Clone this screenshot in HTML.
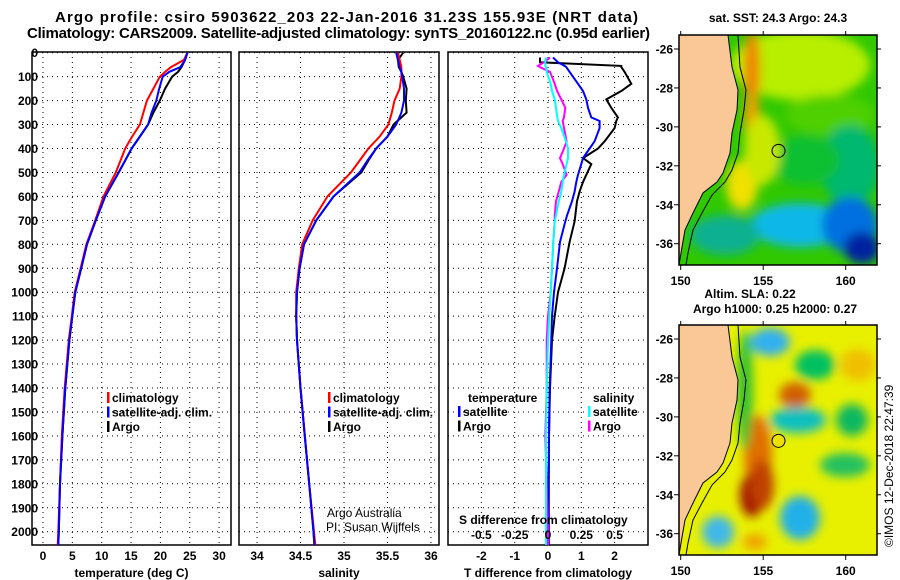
<!DOCTYPE html>
<html><head><meta charset="utf-8"><style>
html,body{margin:0;padding:0;background:#fff;}
svg{display:block;font-family:"Liberation Sans",sans-serif;}
.b{font-weight:bold;font-size:12px;}
.t{font-weight:bold;font-size:15px;}
</style></head><body>
<svg id="chart" width="900" height="580" viewBox="0 0 900 580" xmlns="http://www.w3.org/2000/svg">
<defs>
<filter id="bl" x="-50%" y="-50%" width="200%" height="200%"><feGaussianBlur stdDeviation="5"/></filter>
<clipPath id="c1"><rect x="679" y="35" width="198" height="230"/></clipPath>
<clipPath id="c2"><rect x="679" y="325" width="198" height="230"/></clipPath>
</defs>
<text class="t" x="55" y="22" textLength="583">Argo profile: csiro 5903622_203 22-Jan-2016 31.23S 155.93E (NRT data)</text>
<text class="t" x="27" y="38" textLength="623">Climatology: CARS2009. Satellite-adjusted climatology: synTS_20160122.nc (0.95d earlier)</text>
<g id="plots"></g>
<g id="maps"></g>
</svg>
<script>
// ---- data ----
const depthP = [0,30,60,80,100,150,200,250,300,350,400,450,500,600,700,800,900,1000,1100,1200,1400,1600,1800,2000,2055];
const tClim = [24.6,24.0,21.8,20.8,19.9,18.8,17.7,17.1,16.5,15.2,14.0,13.2,12.4,10.3,8.9,7.4,6.4,5.4,4.9,4.4,3.7,3.2,2.9,2.6,2.5];
const tSat  = [24.6,24.2,23.4,21.5,20.4,19.8,19.3,18.5,17.9,16.5,15.1,14.0,12.9,10.6,9.0,7.5,6.5,5.5,5.0,4.5,3.8,3.3,2.9,2.7,2.6];
const tArgo = [24.6,24.2,23.6,23.0,22.0,20.8,19.9,18.8,17.9,16.5,15.1,14.0,12.9,10.6,9.0,7.5,6.5,5.5,5.0,4.5,3.8,3.3,2.9,2.7,2.6];
const sClim = [35.62,35.64,35.66,35.66,35.66,35.64,35.58,35.55,35.51,35.41,35.28,35.18,35.08,34.81,34.64,34.52,34.48,34.45,34.45,34.46,34.5,34.55,34.6,34.655,34.67];
const sSat  = [35.60,35.62,35.64,35.66,35.67,35.69,35.69,35.66,35.60,35.50,35.37,35.27,35.18,34.88,34.68,34.54,34.49,34.46,34.45,34.46,34.5,34.55,34.6,34.65,34.66];
const sArgo = [35.68,35.62,35.63,35.66,35.68,35.72,35.71,35.72,35.57,35.50,35.37,35.28,35.20,34.88,34.68,34.54,34.49,34.46,34.45,34.46,34.5,34.55,34.6,34.65,34.66];
const depthD = [20,40,55,60,80,130,160,195,230,270,285,315,370,400,440,465,510,540,580,620,680,705,790,900,1000,1100,1200,1400,1600,1800,2000,2055];
const dTArgo = [-0.24,-0.24,2.2,2.2,2.3,2.5,2.2,1.75,1.9,2.1,2.05,2.0,1.7,1.5,1.05,1.3,1.15,1.05,0.95,0.87,0.82,0.8,0.65,0.5,0.3,0.2,0.12,0.06,0.03,0.02,0.02,0.02];
const dTSat  = [0.15,0.3,0.5,0.55,0.65,0.9,1.05,1.15,1.2,1.3,1.55,1.55,1.4,1.25,1.05,1.0,0.9,0.85,0.8,0.72,0.57,0.52,0.36,0.27,0.18,0.12,0.1,0.05,0.03,0.02,0.02,0.02];
const dSArgo = [0.015,-0.03,-0.075,-0.06,0.015,0.05,0.068,0.1,0.13,0.12,0.11,0.12,0.14,0.12,0.09,0.11,0.14,0.1,0.08,0.06,0.05,0.05,0.04,0.03,0.02,0.0,-0.01,-0.01,-0.02,-0.01,0.0,0.0];
const dSSat  = [-0.015,-0.02,-0.02,-0.015,-0.01,0.02,0.03,0.05,0.06,0.07,0.075,0.1,0.135,0.15,0.15,0.14,0.12,0.11,0.1,0.08,0.06,0.05,0.04,0.03,0.02,0.01,0.0,-0.01,-0.015,-0.015,-0.015,-0.015];
const depthTicks = [0,100,200,300,400,500,600,700,800,900,1000,1100,1200,1300,1400,1500,1600,1700,1800,1900,2000];
const tTicks = [0,5,10,15,20,25,30];
const sTicks = [34,34.5,35,35.5,36];
const dTTicks = [-2,-1,0,1,2];
const dSTicks = [-0.5,-0.25,0,0.25,0.5];
const lonTicks = [150,155,160];
const latTicks = [-26,-28,-30,-32,-34,-36];

const NS='http://www.w3.org/2000/svg';
function mk(tag, attrs, parent, txt){const e=document.createElementNS(NS,tag);for(const k in attrs)e.setAttribute(k,attrs[k]);if(txt!==undefined)e.textContent=txt;parent.appendChild(e);return e;}
const plots=document.getElementById('plots');
const yD = d => 52.7 + d*0.2395;
const PT=52, PB=545;
const xT = v => 43 + v*5.87;
const xS = v => 257 + (v-34)*87;
const xDT = v => 548 + v*33.3;
const xDS = v => 548 + v*133.2;

function panel(name,L,R,ticks,xf,fmtTicks,showY,xtitle){
  const g=mk('g',{},plots);
  
  
  for(const d of depthTicks){const y=yD(d);
    const gl=mk('line',{x1:L,x2:R,y1:y,y2:y,stroke:'#000','stroke-width':1,'stroke-dasharray':'1,4'},g);
    
    
    if(showY){const t=mk('text',{x:38,y:y+4.5,'text-anchor':'end',class:'b'},g,String(d));
      
      }
  }
  ticks.forEach(v=>{const x=xf(v);
    const gl=mk('line',{x1:x,x2:x,y1:PT,y2:PB,stroke:'#000','stroke-width':1,'stroke-dasharray':'1,4'},g);
    
    
    if(fmtTicks){const t=mk('text',{x:x,y:560,'text-anchor':'middle',class:'b'},g,String(v));
      
      }
  });
  const r=mk('rect',{x:L,y:PT,width:R-L,height:PB-PT,fill:'none',stroke:'#000','stroke-width':1.5},g);
  
  
  const xt=mk('text',{x:(L+R)/2,y:577,'text-anchor':'middle',class:'b'},g,xtitle);
  
  
  return g;
}
function series(g,name,vals,depths,xf,color){
  const pts=vals.map((v,i)=>xf(v).toFixed(1)+','+yD(depths[i]).toFixed(1)).join(' ');
  const p=mk('polyline',{points:pts,fill:'none',stroke:color,'stroke-width':2},g);
  
  
}
function legend(g,x,y,items,name){
  items.forEach((it,i)=>{
    const yy=y+i*14.5;
    const m=mk('rect',{x:x,y:yy-10,width:2.5,height:11,fill:it[1]},g);
    
    
    const t=mk('text',{x:x+5,y:yy,class:'b'},g,it[0]);
    
    
  });
}
// panel 1
const g1=panel('temperature-panel',32,231,tTicks,xT,true,true,'temperature (deg C)');
series(g1,'temperature-argo-line',tArgo,depthP,xT,'#000');
series(g1,'temperature-climatology-line',tClim,depthP,xT,'#f00');
series(g1,'temperature-satellite-line',tSat,depthP,xT,'#00f');
legend(g1,107,402,[['climatology','#f00'],['satellite-adj. clim.','#00f'],['Argo','#000']],'temperature-legend');
// panel 2
const g2=panel('salinity-panel',239,439,sTicks,xS,true,false,'salinity');
series(g2,'salinity-argo-line',sArgo,depthP,xS,'#000');
series(g2,'salinity-climatology-line',sClim,depthP,xS,'#f00');
series(g2,'salinity-satellite-line',sSat,depthP,xS,'#00f');
legend(g2,328,402,[['climatology','#f00'],['satellite-adj. clim.','#00f'],['Argo','#000']],'salinity-legend');
const c1=mk('text',{x:327,y:517,'font-size':'12'},g2,'Argo Australia');


const c2=mk('text',{x:326,y:531,'font-size':'12'},g2,'PI: Susan Wijffels');


// panel 3
const g3=panel('difference-panel',448,648,dTTicks,xDT,true,false,'T difference from climatology');
series(g3,'t-diff-argo-line',dTArgo,depthD,xDT,'#000');
series(g3,'t-diff-satellite-line',dTSat,depthD,xDT,'#00f');
series(g3,'s-diff-argo-line',dSArgo,depthD,xDS,'#f0f');
series(g3,'s-diff-satellite-line',dSSat,depthD,xDS,'#0ff');
const lt=mk('text',{x:468,y:402,class:'b'},g3,'temperature');


legend(g3,458,416,[['satellite','#00f'],['Argo','#000']],'diff-legend-temperature');
const ls=mk('text',{x:593,y:402,class:'b'},g3,'salinity');


legend(g3,588,416,[['satellite','#0ff'],['Argo','#f0f']],'diff-legend-salinity');
const st=mk('text',{x:459,y:524,class:'b'},g3,'S difference from climatology');


dSTicks.forEach(v=>{const t=mk('text',{x:xDS(v),y:539,'text-anchor':'middle',class:'b'},g3,String(v));
  
  });

// ---- maps ----
const maps=document.getElementById('maps');
const mx = lon => 680.7 + (lon-150)*16.5;
const coast=[[728,35],[732,67],[738,90],[737,110],[732,133],[730,153],[723,173],[717,182],[703,193],[693,213],[685,230],[681,253],[679,265]];
const iso=[[738,35],[740,67],[746,90],[744,110],[740,133],[738,153],[732,170],[725,182],[712,195],[702,213],[693,230],[688,253],[686,265]];
function mapBox(name,top,blobs,base,title1,title2,markerFill,clip){
  const g=mk('g',{},maps);
  
  
  const off=top-35;
  const my = lat => top+14 + (-26-lat)*19.47;
  const cg=mk('g',{'clip-path':'url(#'+clip+')'},g);
  mk('rect',{x:679,y:top,width:198,height:230,fill:base},cg);
  const bg=mk('g',{filter:'url(#bl)'},cg);
  blobs.forEach(b=>mk('ellipse',{cx:b[0],cy:b[1]+off,rx:b[2],ry:b[3],fill:b[4]},bg));
  const land='M679,'+top+' '+coast.map(p=>'L'+p[0]+','+(p[1]+off)).join(' ')+' Z';
  const lp=mk('path',{d:land,fill:'#f9c896',stroke:'#000','stroke-width':1},cg);
  
  
  mk('polyline',{points:iso.map(p=>p[0]+','+(p[1]+off)).join(' '),fill:'none',stroke:'#000','stroke-width':1},cg);
  const fr=mk('rect',{x:679,y:top,width:198,height:230,fill:'none',stroke:'#000','stroke-width':1.5},g);
  
  
  lonTicks.forEach(v=>{const x=mx(v);
    mk('line',{x1:x,x2:x,y1:top+230,y2:top+235,stroke:'#000'},g);
    mk('line',{x1:x,x2:x,y1:top,y2:top-4,stroke:'#000'},g);
    const t=mk('text',{x:x,y:top+250,'text-anchor':'middle',class:'b','font-size':'13'},g,String(v));
    
    });
  latTicks.forEach(v=>{const y=my(v);
    mk('line',{x1:679,x2:674,y1:y,y2:y,stroke:'#000'},g);
    mk('line',{x1:877,x2:881,y1:y,y2:y,stroke:'#000'},g);
    const t=mk('text',{x:673,y:y+4.5,'text-anchor':'end',class:'b'},g,String(v));
    
    });
  const m=mk('circle',{cx:mx(155.93),cy:my(-31.23),r:6.5,fill:markerFill,stroke:'#000','stroke-width':1},g);
  
  
  const t1=mk('text',{x:title2?750:778,y:title2?top-27:top-13,'text-anchor':'middle',class:'b'},g,title1);
  
  
  if(title2){const t2=mk('text',{x:775,y:top-12,'text-anchor':'middle',class:'b'},g,title2);
    
    }
}
const sstBlobs=[
 [800,65,70,35,'#b8ee00'],[752,70,8,40,'#f08000'],[752,120,8,30,'#f0a000'],
 [830,115,45,20,'#50d000'],[742,185,16,25,'#f0e000'],
 [850,165,30,40,'#00b870'],[805,160,35,25,'#10c030'],[800,225,50,22,'#10b8e8'],
 [850,225,28,28,'#0070e0'],[862,248,18,16,'#0020a0'],[725,235,35,20,'#10b090'],
 [762,150,18,35,'#c8e800']];
const slaBlobs=[
 [770,52,20,14,'#30b0f0'],[815,75,20,15,'#00c060'],[858,75,18,16,'#f0c000'],
 [795,105,16,13,'#d06000'],[798,130,28,13,'#10c0c0'],[852,130,16,16,'#10b860'],
 [758,165,14,40,'#e07000'],[752,205,12,22,'#a01000'],[762,195,12,25,'#c04000'],
 [800,228,20,22,'#20b0e8'],[845,175,25,12,'#20c060'],[718,242,16,16,'#40b8e8'],
 [755,252,12,8,'#f0a000'],[745,100,8,60,'#30c030']];
mapBox('sst-map',35,sstBlobs,'#30c800','sat. SST: 24.3 Argo: 24.3',null,'none','c1');
mapBox('sla-map',325,slaBlobs,'#e8f000','Altim. SLA: 0.22','Argo h1000: 0.25 h2000: 0.27','#f0e000','c2');
const im=mk('text',{x:0,y:0,'font-size':'12',transform:'translate(893,547) rotate(-90)'},maps,'©IMOS 12-Dec-2018 22:47:39');


</script>
</body></html>
